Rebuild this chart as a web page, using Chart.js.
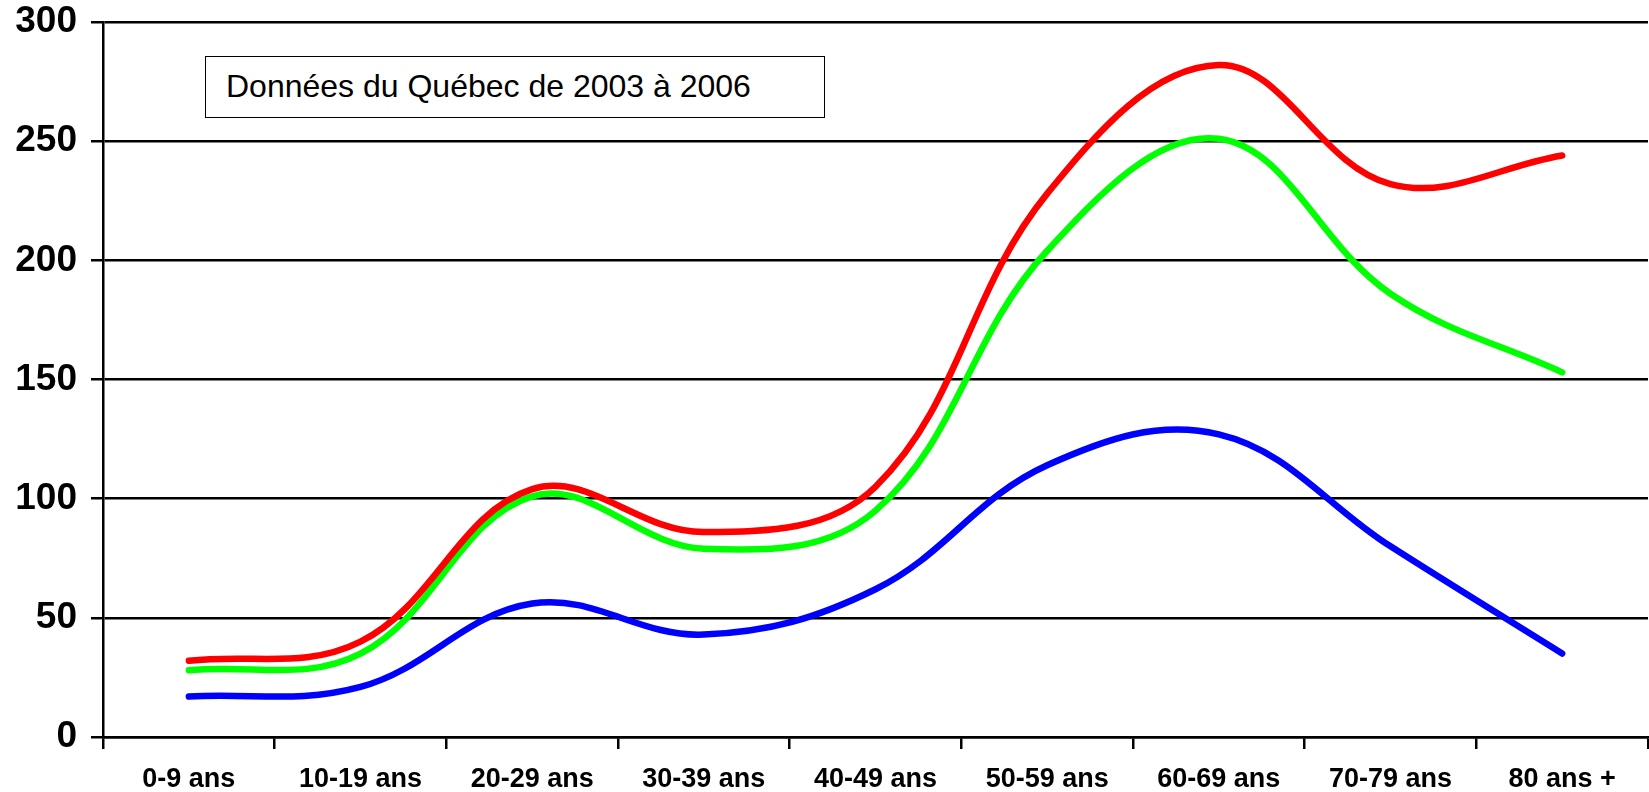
<!DOCTYPE html>
<html>
<head>
<meta charset="utf-8">
<script src="https://cdn.jsdelivr.net/npm/chart.js@4"></script>
<style>
  body { margin: 0; background: #fff; }
  #wrap { position: relative; width: 1649px; height: 792px; }
  #note {
    position: absolute; left: 205px; top: 56px; width: 620px; height: 62px;
    border: 1.5px solid #000; background: #fff;
    font-family: "Liberation Sans", Arial, sans-serif; font-size: 32px;
    line-height: 59px; padding-left: 20px; box-sizing: border-box; color: #000;
  }
</style>
</head>
<body>
<div id="wrap">
  <canvas id="myCanvas" width="1649" height="792"></canvas>
  <div id="note">Données du Québec de 2003 à 2006</div>
</div>
<script>
const categories = ['0-9 ans', '10-19 ans', '20-29 ans', '30-39 ans', '40-49 ans', '50-59 ans', '60-69 ans', '70-79 ans', '80 ans +'];
const redValues = [32, 40, 104, 86, 105, 228, 282, 232, 244];
const greenValues = [28, 35, 101, 79, 95, 204, 251, 186, 153];
const blueValues = [17, 21, 56, 43, 62, 114, 127, 80, 35];
const yTicks = [0, 50, 100, 150, 200, 250, 300];

const font = '"Liberation Sans", Arial, sans-serif';

function line(values, color) {
	return {
		data: values,
		borderColor: color,
		backgroundColor: color,
		borderWidth: 6.5,
		pointRadius: 0,
		tension: 0.38,
		borderCapStyle: 'round',
		borderJoinStyle: 'round'
	};
}

const ctx = document.querySelector('#myCanvas');
const chart = new Chart(ctx, {
	type: 'line',
	data: {
		labels: categories,
		datasets: [
			line(redValues, '#ff0000'),
			line(greenValues, '#00ff00'),
			line(blueValues, '#0000ff')
		]
	},
	options: {
		responsive: false,
		animation: false,
		layout: { padding: { top: 22, right: 1, left: 0, bottom: 0 } },
		plugins: { legend: { display: false }, tooltip: { enabled: false } },
		scales: {
			x: {
				offset: true,
				grid: { offset: true, drawOnChartArea: false, color: '#000', lineWidth: 2.5, tickLength: 12 },
				border: { color: '#000', width: 2.5 },
				ticks: { color: '#000', font: { family: font, size: 27, weight: 'bold' }, padding: 14, maxRotation: 0, autoSkip: false },
				afterFit: (s) => { s.height = 55; }
			},
			y: {
				min: 0,
				max: 300,
				afterBuildTicks: (s) => { s.ticks = yTicks.map(v => ({ value: v })); },
				grid: { color: '#000', lineWidth: 2.5, tickLength: 12 },
				border: { color: '#000', width: 2.5 },
				ticks: { color: '#000', font: { family: font, size: 37, weight: 'bold' }, padding: 14 },
				afterFit: (s) => { s.width = 103; s.paddingTop = 0; s.paddingBottom = 0; }
			}
		}
	}
});
</script>
</body>
</html>
